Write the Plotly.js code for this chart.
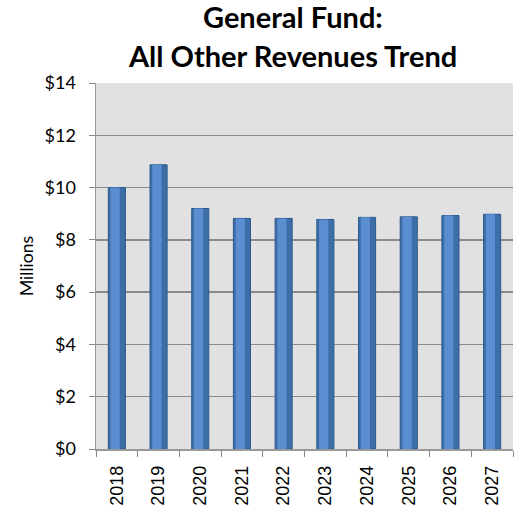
<!DOCTYPE html>
<html><head><meta charset="utf-8">
<script src="https://cdn.plot.ly/plotly-3.0.1.min.js"></script>
<style>body{margin:0;padding:0;background:#fff}#chart{width:519px;height:512px}</style>
</head><body><div id="chart"></div>
<script>
const years = ['2018','2019','2020','2021','2022','2023','2024','2025','2026','2027'];
const revenues = [10.0, 10.87, 9.2, 8.82, 8.82, 8.78, 8.86, 8.88, 8.93, 8.98];
const yTickVals = [0,2,4,6,8,10,12,14];
const yTickText = ['$0','$2','$4','$6','$8','$10','$12','$14'];
const titleLines = ['General Fund:', 'All Other Revenues Trend'];

const barBody = {
  type: 'bar', x: years, y: revenues, width: 0.41,
  marker: {color: '#3e6ea8', line: {color: '#2c5a8e', width: 1}},
  hoverinfo: 'none'
};
const barShine = {
  type: 'bar', x: years, y: revenues, width: 0.22, offset: -0.15,
  marker: {color: '#5a8ed0', line: {width: 0}},
  hoverinfo: 'none'
};
const tfont = {family: 'Lato, "Open Sans", sans-serif', size: 29, color: '#000'};
const layout = {
  width: 519, height: 512,
  margin: {l: 96, r: 6, t: 83, b: 63},
  paper_bgcolor: '#ffffff', plot_bgcolor: '#e1e1e1',
  barmode: 'overlay',
  showlegend: false,
  annotations: [
    {text: '<b>' + titleLines[0] + '</b>', xref: 'paper', yref: 'paper', x: 0.472, y: 1.183, xanchor: 'center', yanchor: 'middle', showarrow: false, font: tfont},
    {text: '<b>' + titleLines[1] + '</b>', xref: 'paper', yref: 'paper', x: 0.472, y: 1.0765, xanchor: 'center', yanchor: 'middle', showarrow: false, font: tfont}
  ],
  xaxis: {type: 'category', tickangle: -90, ticks: 'outside', tickson: 'boundaries', ticklen: 6, tickcolor: '#888',
    ticklabelstandoff: 8,
    showline: true, linecolor: '#999', linewidth: 1.5, mirror: false,
    tickfont: {family: 'Liberation Sans, Arial, sans-serif', size: 18, color: '#000'}, showgrid: false},
  yaxis: {range: [0, 14], tickvals: yTickVals, ticktext: yTickText, ticks: 'outside', ticklen: 6, tickcolor: '#888',
    ticklabelstandoff: 9,
    showline: true, linecolor: '#999', linewidth: 1.5, gridcolor: '#8a8a8a', gridwidth: 1.5, zeroline: false,
    tickfont: {family: 'Lato, "Open Sans", sans-serif', size: 18, color: '#000'},
    title: {text: 'Millions', standoff: 6, font: {family: 'Lato, "Open Sans", sans-serif', size: 17.5, color: '#000'}}}
};
Plotly.newPlot('chart', [barBody, barShine], layout, {displayModeBar: false, staticPlot: true});
</script></body></html>
